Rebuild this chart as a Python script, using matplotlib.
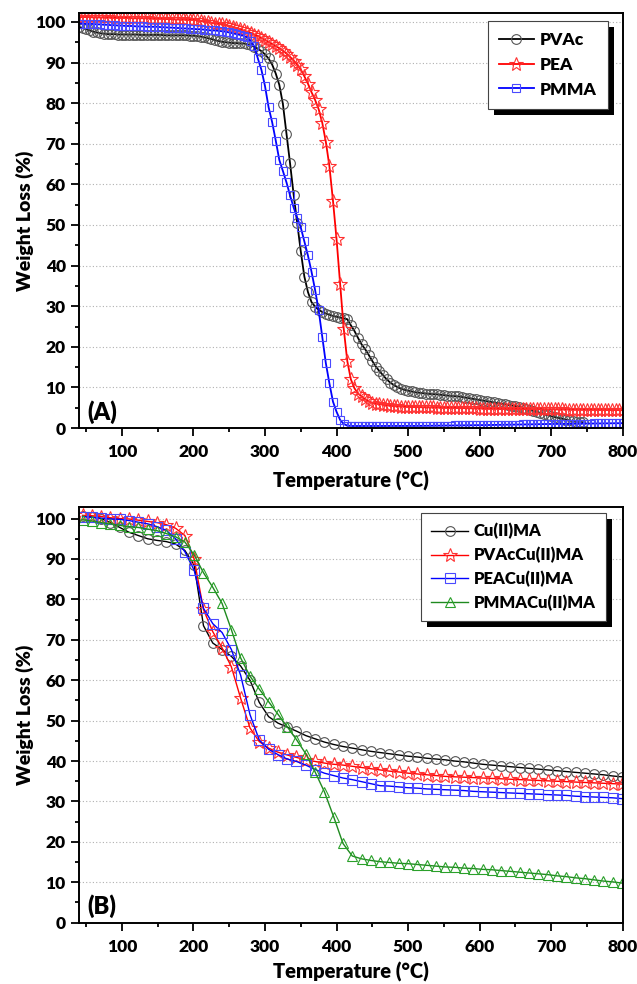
import numpy as np
import matplotlib.pyplot as plt
from matplotlib.patches import Rectangle
from matplotlib.transforms import IdentityTransform
from matplotlib.ticker import MultipleLocator

# ---------------- data panel (A): polymers, read every 5 degC ----------------
T_a = np.arange(40, 801, 5)

w_pvac = [98.8, 98.5, 98.2, 97.9, 97.6, 97.4, 97.2, 97.1, 97.0, 97.0, 97.0, 96.9,
          96.9, 96.9, 96.9, 96.9, 96.9, 96.8, 96.8, 96.8, 96.8, 96.8, 96.8, 96.8,
          96.7, 96.7, 96.7, 96.7, 96.7, 96.7, 96.7, 96.6,
          96.6, 96.5, 96.4, 96.2, 96.0, 95.8, 95.5, 95.3, 95.1, 95.0, 94.9, 94.8,
          94.8, 94.7, 94.7, 94.5, 94.3, 93.9, 93.4, 92.8,
          92.0, 91.0, 89.5, 87.3, 84.5, 79.8, 72.5, 65.2, 57.5, 50.4, 43.5, 37.3,
          33.5, 31.0, 29.9, 29.1, 28.6, 28.2, 27.9, 27.6,
          27.4, 27.2, 27.0, 26.8, 25.3, 23.9, 22.2, 20.6, 19.4, 18.0, 16.5, 15.1,
          14.0, 13.0, 12.0, 11.2, 10.6, 10.1, 9.7, 9.4,
          9.2, 9.0, 8.8, 8.7, 8.6, 8.5, 8.4, 8.35, 8.3, 8.2, 8.1, 8.0, 7.9, 7.85,
          7.8, 7.65, 7.5, 7.35, 7.2, 7.05,
          6.9, 6.75, 6.6, 6.45, 6.3, 6.15, 6.0, 5.85, 5.7, 5.55, 5.4, 5.2, 5.0, 4.75,
          4.5, 4.25, 4.0, 3.7, 3.4, 3.15,
          2.9, 2.7, 2.5, 2.3, 2.1, 1.9, 1.7, 1.6, 1.5, 1.4]

w_pea = [101.2, 101.2, 101.2, 101.2, 101.1, 101.1, 101.1, 101.1, 101.1, 101.0, 101.0, 101.0,
         101.0, 101.0, 101.0, 100.9, 100.9, 100.9, 100.9, 100.9, 100.8, 100.8, 100.8, 100.8,
         100.7, 100.7, 100.7, 100.6, 100.6, 100.6, 100.5, 100.5,
         100.5, 100.4, 100.2, 100.1, 100.0, 99.8, 99.6, 99.5, 99.4, 99.2, 99.0, 98.8,
         98.5, 98.2, 97.9, 97.6, 97.3, 96.9, 96.5, 96.1,
         95.6, 95.1, 94.6, 94.1, 93.5, 92.9, 92.2, 91.4, 90.5, 89.5, 88.3, 86.6,
         84.8, 82.7, 80.8, 78.5, 75.2, 70.5, 64.5, 56.0,
         46.5, 35.5, 24.5, 16.5, 12.0, 9.8, 8.5, 7.8, 7.1, 6.6, 6.2, 6.0,
         5.9, 5.75, 5.6, 5.5, 5.4, 5.35, 5.3, 5.25,
         5.2, 5.18, 5.16, 5.14, 5.12, 5.1, 5.08, 5.06, 5.04, 5.02, 5.0, 4.98,
         4.96, 4.94, 4.92, 4.9, 4.88, 4.86, 4.84, 4.82,
         4.8, 4.79, 4.78, 4.77, 4.76, 4.75, 4.74, 4.73, 4.72, 4.71, 4.7, 4.69,
         4.68, 4.67, 4.66, 4.65, 4.64, 4.63, 4.62, 4.61,
         4.6, 4.59, 4.58, 4.57, 4.56, 4.55, 4.54, 4.53, 4.52, 4.51, 4.5, 4.49,
         4.48, 4.47, 4.46, 4.45, 4.44, 4.43, 4.42, 4.41, 4.4]

w_pmma = [99.6, 99.6, 99.5, 99.5, 99.5, 99.4, 99.4, 99.3, 99.3, 99.2, 99.2, 99.1,
          99.1, 99.0, 99.0, 99.0, 98.9, 98.9, 98.9, 98.8, 98.8, 98.8, 98.8, 98.7,
          98.7, 98.6, 98.6, 98.5, 98.5, 98.4, 98.4, 98.3,
          98.3, 98.2, 98.2, 98.1, 98.0, 97.9, 97.9, 97.8, 97.7, 97.6, 97.4, 97.2,
          97.0, 96.8, 96.6, 96.2, 95.3, 94.0, 91.0, 88.2,
          84.2, 79.0, 75.3, 70.8, 66.0, 63.3, 60.5, 57.3, 54.3, 51.8, 49.4, 46.0,
          42.5, 38.5, 34.0, 29.0, 22.5, 16.0, 11.0, 6.5,
          4.0, 2.0, 1.0, 0.6, 0.5, 0.5, 0.5, 0.5, 0.5, 0.5, 0.5, 0.5,
          0.5, 0.5, 0.5, 0.5, 0.5, 0.5, 0.5, 0.5,
          0.5, 0.51, 0.52, 0.53, 0.54, 0.55, 0.56, 0.57, 0.58, 0.59, 0.6, 0.61,
          0.62, 0.63, 0.64, 0.65, 0.66, 0.67, 0.68, 0.69,
          0.7, 0.72, 0.73, 0.75, 0.76, 0.78, 0.79, 0.81, 0.82, 0.84, 0.85, 0.87,
          0.88, 0.9, 0.91, 0.93, 0.94, 0.96, 0.97, 0.99,
          1.0, 1.01, 1.02, 1.03, 1.04, 1.05, 1.06, 1.07, 1.08, 1.09, 1.1, 1.11,
          1.12, 1.13, 1.14, 1.15, 1.16, 1.17, 1.18, 1.19, 1.2]

# ---------------- data panel (B): Cu(II) complexes, read every 13 degC ----------------
T_b = np.arange(45, 801, 13)

w_cuma = [100.6, 100.4, 100.0, 99.0, 97.8, 96.6, 95.8, 95.0, 94.6, 94.3, 93.7, 92.1,
          88.5, 73.5, 69.2, 67.6, 65.9, 63.5, 60.0, 54.5, 51.0, 49.4, 48.4, 47.4,
          46.3, 45.5, 44.7, 44.1, 43.6, 43.2, 42.8, 42.4, 42.1, 41.8, 41.5, 41.2,
          41.0, 40.7, 40.5, 40.3, 40.0, 39.8, 39.5, 39.2, 39.0, 38.8, 38.6, 38.4,
          38.2, 38.0, 37.8, 37.6, 37.4, 37.2, 37.0, 36.8, 36.6, 36.3, 36.1]

w_pvac_cu = [100.8, 100.7, 100.5, 100.2, 100.0, 99.9, 99.6, 99.3, 99.0, 98.5, 97.6, 95.8,
             90.0, 77.5, 72.0, 68.0, 63.3, 55.5, 48.2, 44.8, 43.2, 42.2, 41.5, 40.9,
             40.3, 39.9, 39.5, 39.2, 39.0, 38.7, 38.4, 38.1, 37.8, 37.5, 37.3, 37.0,
             36.8, 36.6, 36.4, 36.2, 36.1, 36.0, 35.9, 35.8, 35.7, 35.6, 35.5, 35.4,
             35.3, 35.2, 35.1, 35.0, 34.9, 34.8, 34.7, 34.6, 34.5, 34.4, 34.3]

w_pea_cu = [100.5, 100.3, 100.1, 99.9, 99.8, 99.5, 99.1, 98.7, 98.0, 97.1, 95.0, 91.8,
            87.2, 77.8, 74.0, 71.8, 67.6, 61.2, 51.5, 45.2, 42.9, 41.6, 40.5, 39.9,
            39.0, 37.9, 37.0, 36.4, 35.8, 35.4, 34.9, 34.4, 33.9, 33.8, 33.6, 33.4,
            33.3, 33.1, 33.0, 32.9, 32.8, 32.7, 32.5, 32.4, 32.3, 32.2, 32.1, 32.0,
            31.9, 31.8, 31.7, 31.6, 31.5, 31.3, 31.2, 31.1, 31.0, 30.9, 30.7]

w_pmma_cu = [99.7, 99.4, 99.0, 98.7, 98.3, 98.0, 97.8, 97.4, 97.0, 96.3, 95.5, 94.2,
             91.0, 86.6, 83.0, 79.0, 72.5, 65.5, 61.0, 57.8, 54.7, 51.6, 48.5, 45.3,
             41.8, 37.3, 32.4, 26.2, 19.6, 16.5, 15.8, 15.4, 15.1, 14.9, 14.7, 14.6,
             14.4, 14.2, 14.0, 13.8, 13.7, 13.5, 13.4, 13.2, 13.1, 12.9, 12.7, 12.5,
             12.3, 12.1, 11.9, 11.6, 11.4, 11.1, 10.9, 10.6, 10.3, 10.1, 9.8]

W = 'heavy'  # Calibri-bold look
plt.rcParams['font.family'] = ['Lato', 'DejaVu Sans']
plt.rcParams['font.weight'] = W

fig = plt.figure(figsize=(6.37, 9.84), dpi=100)
ax1 = fig.add_axes([0.124, 0.565, 0.8536, 0.4218])
ax2 = fig.add_axes([0.124, 0.0623, 0.8536, 0.4222])


def style_axes(ax, ytop, xpad):
    ax.set_xlim(40, 800)
    ax.set_ylim(0, ytop)
    ax.xaxis.set_major_locator(MultipleLocator(100))
    ax.xaxis.set_minor_locator(MultipleLocator(50))
    ax.yaxis.set_major_locator(MultipleLocator(10))
    ax.yaxis.set_minor_locator(MultipleLocator(5))
    ax.tick_params(which='both', direction='out', top=False, right=False, width=1.3)
    ax.tick_params(which='major', length=5.5, labelsize=12.5)
    ax.tick_params(axis='x', which='major', pad=6)
    ax.tick_params(axis='y', which='major', pad=4)
    ax.tick_params(which='minor', length=3)
    for s in ax.spines.values():
        s.set_linewidth(1.4)
    ax.yaxis.grid(True, linestyle=(0, (1, 2)), color='#b0b0b0', linewidth=0.8)
    ax.set_axisbelow(True)
    ax.set_xlabel('Temperature (°C)', fontsize=14.5, fontweight=W, labelpad=xpad)
    ax.set_ylabel('Weight Loss (%)', fontsize=14, fontweight=W, labelpad=1)
    for lab in ax.get_xticklabels() + ax.get_yticklabels():
        lab.set_fontweight(W)


def add_shadow(ax, leg, d=6):
    # black drop shadow behind the legend box, like Origin draws it
    fig.canvas.draw()
    bb = leg.get_window_extent()
    ax.add_patch(Rectangle((bb.x0 + d, bb.y0 - d), bb.width, bb.height,
                           transform=IdentityTransform(), facecolor='black',
                           edgecolor='none', zorder=4.5, clip_on=False))


# panel (A)
n = len(w_pvac)
ax1.plot(T_a[:n], w_pvac, color='black', lw=1.3, marker='o', ms=7, mfc='none',
         mec='#555555', mew=0.8, label='PVAc')
ax1.plot(T_a, w_pea, color='red', lw=1.3, marker='*', ms=10, mfc='none',
         mec='#ff3030', mew=0.8, label='PEA')
ax1.plot(T_a, w_pmma, color='blue', lw=1.3, marker='s', ms=6, mfc='none',
         mec='#4a4aff', mew=0.8, label='PMMA')
style_axes(ax1, 102.2, 8)
ax1.text(0.016, 0.02, '(A)', transform=ax1.transAxes, fontsize=17, fontweight=W)
leg1 = ax1.legend(loc='upper right', bbox_to_anchor=(0.973, 0.981), borderaxespad=0,
                  fancybox=False, framealpha=1, edgecolor='#444444', numpoints=1,
                  handlelength=2.0, prop={'weight': W, 'size': 12.5},
                  labelspacing=0.5, borderpad=0.65, handletextpad=0.35)
leg1.get_frame().set_linewidth(0.8)

# panel (B)
ax2.plot(T_b, w_cuma, color='black', lw=1.0, marker='o', ms=7, mfc='none',
         mec='#555555', mew=0.8, label='Cu(II)MA')
ax2.plot(T_b, w_pvac_cu, color='red', lw=1.0, marker='*', ms=10, mfc='none',
         mec='#ff3030', mew=0.8, label='PVAcCu(II)MA')
ax2.plot(T_b, w_pea_cu, color='blue', lw=1.0, marker='s', ms=6.5, mfc='none',
         mec='#4a4aff', mew=0.8, label='PEACu(II)MA')
ax2.plot(T_b, w_pmma_cu, color='#1f8a1f', lw=1.0, marker='^', ms=7.5, mfc='none',
         mec='#2aa02a', mew=0.8, label='PMMACu(II)MA')
style_axes(ax2, 102.8, 5)
ax2.text(0.016, 0.02, '(B)', transform=ax2.transAxes, fontsize=17, fontweight=W)
leg2 = ax2.legend(loc='upper right', bbox_to_anchor=(0.969, 0.986), borderaxespad=0,
                  fancybox=False, framealpha=1, edgecolor='#444444', numpoints=1,
                  handlelength=2.2, prop={'weight': W, 'size': 12},
                  labelspacing=0.45, borderpad=0.6, handletextpad=0.35)
leg2.get_frame().set_linewidth(0.8)

add_shadow(ax1, leg1)
add_shadow(ax2, leg2)

fig.savefig('out.png', dpi=100)
